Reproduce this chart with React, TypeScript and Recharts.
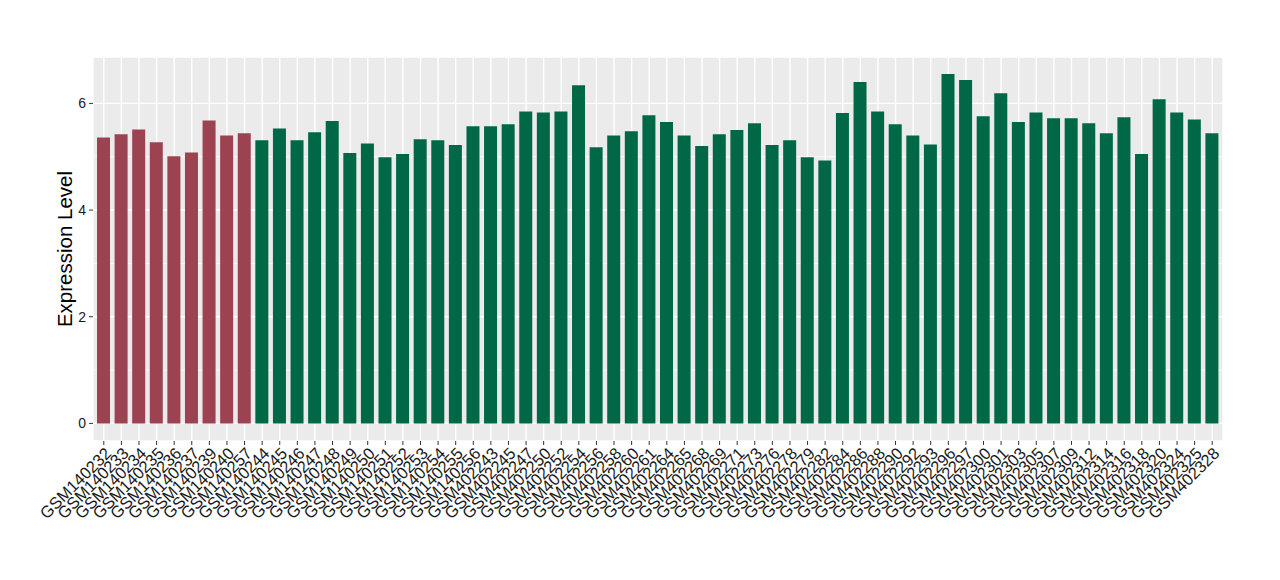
import React from 'react';
import { BarChart, Bar, XAxis, YAxis, CartesianGrid, Cell } from 'recharts';

const samples = [
  'GSM140232', 'GSM140233', 'GSM140234', 'GSM140235', 'GSM140236', 'GSM140237', 'GSM140239', 'GSM140240',
  'GSM140257', 'GSM140244', 'GSM140245', 'GSM140246', 'GSM140247', 'GSM140248', 'GSM140249', 'GSM140250',
  'GSM140251', 'GSM140252', 'GSM140253', 'GSM140254', 'GSM140255', 'GSM140256', 'GSM402243', 'GSM402245',
  'GSM402247', 'GSM402250', 'GSM402252', 'GSM402254', 'GSM402256', 'GSM402258', 'GSM402260', 'GSM402261',
  'GSM402264', 'GSM402265', 'GSM402268', 'GSM402269', 'GSM402271', 'GSM402273', 'GSM402276', 'GSM402278',
  'GSM402279', 'GSM402282', 'GSM402284', 'GSM402286', 'GSM402288', 'GSM402290', 'GSM402292', 'GSM402293',
  'GSM402296', 'GSM402297', 'GSM402300', 'GSM402301', 'GSM402303', 'GSM402305', 'GSM402307', 'GSM402309',
  'GSM402312', 'GSM402314', 'GSM402316', 'GSM402318', 'GSM402320', 'GSM402324', 'GSM402325', 'GSM402328',
];

const levels = [
  5.36, 5.42, 5.51, 5.27, 5.01, 5.08, 5.68, 5.40,
  5.44, 5.31, 5.53, 5.31, 5.46, 5.67, 5.07, 5.25,
  4.99, 5.05, 5.33, 5.31, 5.22, 5.57, 5.57, 5.61,
  5.85, 5.83, 5.85, 6.34, 5.18, 5.40, 5.48, 5.78,
  5.65, 5.40, 5.20, 5.42, 5.50, 5.63, 5.22, 5.31,
  4.99, 4.93, 5.82, 6.40, 5.85, 5.61, 5.40, 5.23,
  6.55, 6.44, 5.76, 6.19, 5.65, 5.83, 5.72, 5.72,
  5.63, 5.44, 5.74, 5.05, 6.08, 5.83, 5.70, 5.44,
];

// first 9 samples belong to the first group
const groups = samples.map((_, i) => (i < 9 ? 'A' : 'B'));
const groupColors: Record<string, string> = { A: '#9B4350', B: '#006847' };

const yTicks = [0, 2, 4, 6];
const yMinor = [1, 3, 5];

const data = samples.map((name, i) => ({ name, level: levels[i], group: groups[i] }));

const XTick = (props: any) => {
  const { x, y, payload } = props;
  return (
    <g transform={`translate(${x},${y})`}>
      <text
        x={0}
        y={0}
        dy="0.72em"
        textAnchor="end"
        transform="rotate(-45)"
        fontSize={16.5}
        fill="#1a1a1a"
        fontFamily="'Liberation Sans', Arial, sans-serif"
      >
        {payload.value}
      </text>
    </g>
  );
};

export default function App() {
  return (
    <div style={{ position: 'absolute', left: 0, top: 0, width: 1280, height: 580, background: '#fff' }}>
      <BarChart
        width={1280}
        height={580}
        data={data}
        margin={{ top: 57, right: 57, bottom: 39, left: 53 }}
        style={{ fontFamily: "'Liberation Sans', Arial, sans-serif" }}
      >
        <CartesianGrid fill="#EBEBEB" stroke="#FFFFFF" strokeWidth={1.4} />
        <CartesianGrid
          horizontalValues={yMinor}
          vertical={false}
          stroke="#FFFFFF"
          strokeWidth={0.7}
          fill="none"
        />
        <XAxis
          dataKey="name"
          interval={0}
          height={100}
          axisLine={false}
          tickSize={4}
          tickMargin={1}
          tickLine={{ stroke: '#333333' }}
          tick={<XTick />}
          padding={{ left: 2, right: 2 }}
        />
        <YAxis
          type="number"
          domain={[-0.33, 6.87]}
          ticks={yTicks}
          allowDataOverflow
          width={40}
          axisLine={false}
          tickSize={4}
          tickMargin={3}
          tickLine={{ stroke: '#333333' }}
          tick={{ fill: '#1a1a1a', fontSize: 14 }}
          label={{
            value: 'Expression Level',
            angle: -90,
            position: 'insideLeft',
            dx: 7,
            style: { textAnchor: 'middle', fill: '#000', fontSize: 20.5 },
          }}
        />
        <Bar dataKey="level" barSize={13} isAnimationActive={false}>
          {data.map((d) => (
            <Cell key={d.name} fill={groupColors[d.group]} />
          ))}
        </Bar>
      </BarChart>
    </div>
  );
}
